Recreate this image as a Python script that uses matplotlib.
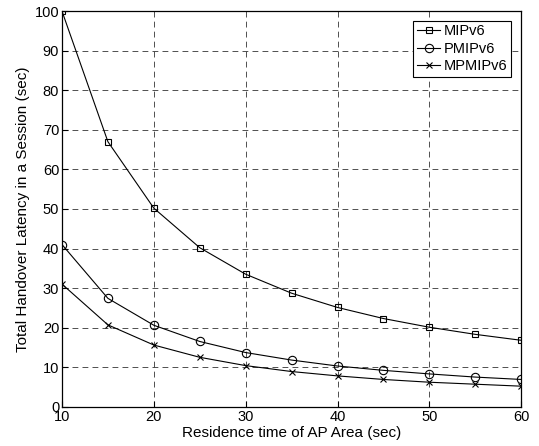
import matplotlib
matplotlib.use("Agg")
import matplotlib.pyplot as plt

# residence time (sec)
residence = [10, 15, 20, 25, 30, 35, 40, 45, 50, 55, 60]
# total handover latency (sec)
mipv6 = [100, 67.0, 50.2, 40.2, 33.5, 28.7, 25.1, 22.3, 20.1, 18.3, 16.8]
pmipv6 = [41.0, 27.4, 20.6, 16.5, 13.7, 11.8, 10.3, 9.2, 8.3, 7.5, 6.9]
mpmipv6 = [31.0, 20.7, 15.6, 12.5, 10.4, 8.9, 7.8, 6.9, 6.2, 5.7, 5.2]

plt.rcParams['font.family'] = ['Liberation Sans', 'DejaVu Sans']
FS = 10.5

fig = plt.figure(figsize=(5.39, 4.46), dpi=100)
ax = fig.add_axes([0.115, 0.088, 0.852, 0.887])

ax.plot(residence, mipv6, 'k-', marker='s', markersize=5, markerfacecolor='none',
        markeredgewidth=0.8, linewidth=0.8, label='MIPv6')
ax.plot(residence, pmipv6, 'k-', marker='o', markersize=6, markerfacecolor='none',
        markeredgewidth=0.8, linewidth=0.8, label='PMIPv6')
ax.plot(residence, mpmipv6, 'k-', marker='x', markersize=4.5,
        markeredgewidth=0.8, linewidth=0.8, label='MPMIPv6')

ax.set_xlim(10, 60)
ax.set_ylim(0, 100)
ax.set_xticks(range(10, 61, 10))
ax.set_yticks(range(0, 101, 10))
ax.grid(True, linestyle=(0, (7, 5)), color='#333333', linewidth=0.6)
ax.tick_params(direction='in', labelsize=FS, length=4, pad=2)
for s in ax.spines.values():
    s.set_linewidth(0.9)

ax.set_xlabel('Residence time of AP Area (sec)', fontsize=11, labelpad=2)
ax.set_ylabel('Total Handover Latency in a Session (sec)', fontsize=11, labelpad=3)

leg = ax.legend(loc='upper right', bbox_to_anchor=(0.98, 0.98), fontsize=FS,
                fancybox=False, edgecolor='black', framealpha=1,
                handlelength=1.6, handletextpad=0.2, borderpad=0.25,
                labelspacing=0.25, borderaxespad=0.1)
leg.get_frame().set_linewidth(0.8)

fig.savefig('out.png', dpi=100)
